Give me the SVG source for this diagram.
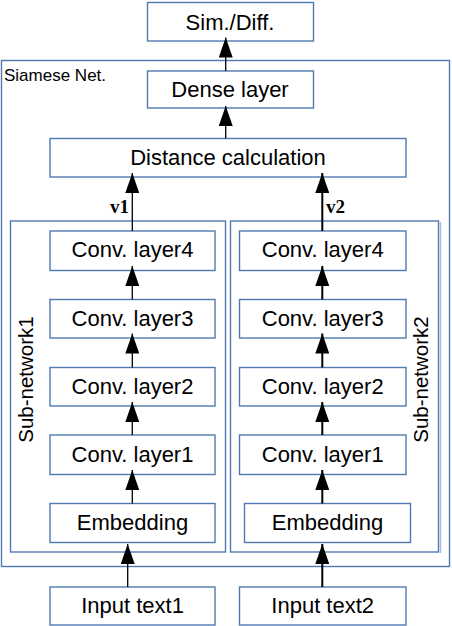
<svg xmlns="http://www.w3.org/2000/svg" width="452" height="626" viewBox="0 0 452 626">
<style>
.box{fill:#fff;stroke:#5079b3;stroke-width:1.4}
.frame{fill:none;stroke:#5079b3;stroke-width:1.4}
.t{font-family:"Liberation Sans",Arial,sans-serif;font-size:22px;fill:#000;text-anchor:middle}
.lbl{font-family:"Liberation Sans",Arial,sans-serif;font-size:17px;fill:#000}
.sub{font-family:"Liberation Sans",Arial,sans-serif;font-size:20.5px;fill:#000;text-anchor:middle}
.v{font-family:"Liberation Serif","Times New Roman",serif;font-size:19px;font-weight:bold;fill:#000}
.c{stroke:#000;stroke-width:1.3;fill:none;marker-end:url(#ah)}
.c2{stroke:#000;stroke-width:2;fill:none;marker-end:url(#ah)}
</style>
<defs>
<marker id="ah" markerUnits="userSpaceOnUse" markerWidth="20" markerHeight="14" refX="20" refY="7" orient="auto">
<path d="M0,0 L20,7 L0,14 z" fill="#000"/>
</marker>
</defs>
<rect width="452" height="626" fill="#fff"/>
<g id="siamese">
<rect class="frame" x="1.5" y="60.5" width="448" height="506"/>
<text class="lbl" x="4" y="81">Siamese Net.</text>
</g>
<g id="subnet1">
<rect class="frame" x="10.5" y="221" width="215" height="331"/>
<text class="sub" transform="translate(33,379.5) rotate(-90)">Sub-network1</text>
</g>
<g id="subnet2">
<rect class="frame" x="230.5" y="221" width="208" height="331"/>
<line x1="440.5" y1="222" x2="440.5" y2="553" stroke="#a9c0dd" stroke-width="1.5"/>
<text class="sub" transform="translate(428,379.5) rotate(-90)">Sub-network2</text>
</g>
<g id="sim">
<rect class="box" x="147.5" y="2.5" width="166" height="38.5"/>
<text class="t" x="230" y="29.5">Sim./Diff.</text>
</g>
<g id="dense">
<rect class="box" x="147.5" y="71" width="166" height="37"/>
<text class="t" x="230" y="96.5">Dense layer</text>
</g>
<g id="distance">
<rect class="box" x="50" y="138.5" width="356" height="38.5"/>
<text class="t" x="228" y="165">Distance calculation</text>
</g>
<g id="conv4a">
<rect class="box" x="50" y="231" width="165" height="39.5"/>
<text class="t" x="132.5" y="257">Conv. layer4</text>
</g>
<g id="conv3a">
<rect class="box" x="50" y="299.5" width="165" height="38.5"/>
<text class="t" x="132.5" y="325.5">Conv. layer3</text>
</g>
<g id="conv2a">
<rect class="box" x="50" y="367.5" width="165" height="38.5"/>
<text class="t" x="132.5" y="393.5">Conv. layer2</text>
</g>
<g id="conv1a">
<rect class="box" x="50" y="435" width="165" height="39.5"/>
<text class="t" x="132.5" y="461.5">Conv. layer1</text>
</g>
<g id="emba">
<rect class="box" x="50" y="503.5" width="165" height="39"/>
<text class="t" x="132.5" y="530">Embedding</text>
</g>
<g id="in1">
<rect class="box" x="50" y="587" width="165" height="38"/>
<text class="t" x="132.5" y="612.5">Input text1</text>
</g>
<g id="conv4b">
<rect class="box" x="239.5" y="231" width="166.5" height="39.5"/>
<text class="t" x="322.7" y="257">Conv. layer4</text>
</g>
<g id="conv3b">
<rect class="box" x="239.5" y="299.5" width="166.5" height="38.5"/>
<text class="t" x="322.7" y="325.5">Conv. layer3</text>
</g>
<g id="conv2b">
<rect class="box" x="239.5" y="367.5" width="166.5" height="38.5"/>
<text class="t" x="322.7" y="393.5">Conv. layer2</text>
</g>
<g id="conv1b">
<rect class="box" x="239.5" y="435" width="166.5" height="39.5"/>
<text class="t" x="322.7" y="461.5">Conv. layer1</text>
</g>
<g id="embb">
<rect class="box" x="244.5" y="503.5" width="166" height="39"/>
<text class="t" x="327.5" y="530">Embedding</text>
</g>
<g id="in2">
<rect class="box" x="239.5" y="587" width="166.5" height="38"/>
<text class="t" x="322.7" y="612.5">Input text2</text>
</g>
<g id="connectors">
<line class="c" x1="225.7" y1="71" x2="225.7" y2="37.5"/>
<line class="c" x1="225.7" y1="138.5" x2="225.7" y2="106"/>
<line class="c" x1="132.3" y1="231" x2="132.3" y2="173"/>
<line class="c2" x1="322.3" y1="231" x2="322.3" y2="173"/>
<line class="c" x1="132.3" y1="299.5" x2="132.3" y2="266"/>
<line class="c" x1="132.3" y1="367.5" x2="132.3" y2="333.5"/>
<line class="c" x1="132.3" y1="435" x2="132.3" y2="402"/>
<line class="c" x1="132.3" y1="503.5" x2="132.3" y2="470"/>
<line class="c" x1="127.7" y1="587" x2="127.7" y2="544"/>
<line class="c2" x1="322.3" y1="299.5" x2="322.3" y2="266"/>
<line class="c2" x1="322.3" y1="367.5" x2="322.3" y2="333.5"/>
<line class="c2" x1="322.3" y1="435" x2="322.3" y2="402"/>
<line class="c2" x1="322.3" y1="503.5" x2="322.3" y2="470"/>
<line class="c2" x1="322.3" y1="587" x2="322.3" y2="544"/>
<text class="v" x="110" y="213">v1</text>
<text class="v" x="326" y="213">v2</text>
</g>
</svg>
